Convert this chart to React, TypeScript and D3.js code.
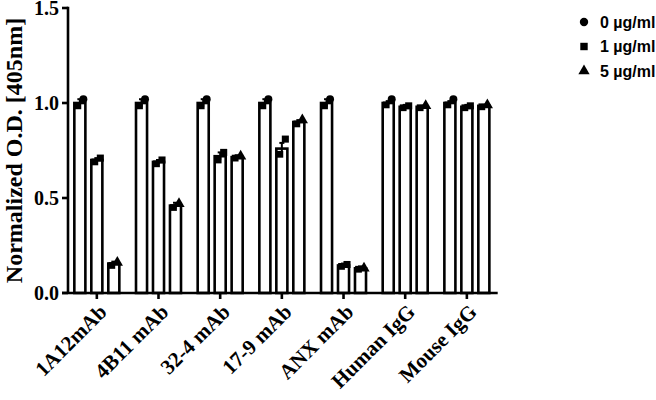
import React from "react";
import * as d3 from "d3";

const groups = ["1A12mAb", "4B11 mAb", "32-4 mAb", "17-9 mAb", "ANX mAb", "Human IgG", "Mouse IgG"];
const concentrations = ["0 µg/ml", "1 µg/ml", "5 µg/ml"];

// bar heights (mean) per concentration
const mean0 = [1.0, 1.0, 1.0, 1.0, 1.0, 1.0, 1.0];
const mean1 = [0.7, 0.69, 0.72, 0.76, 0.145, 0.98, 0.98];
const mean2 = [0.155, 0.46, 0.715, 0.9, 0.13, 0.98, 0.985];

// error (SEM)
const err0 = [0.02, 0.02, 0.02, 0.02, 0.02, 0.01, 0.01];
const err1 = [0.01, 0.01, 0.02, 0.03, 0.01, 0.01, 0.01];
const err2 = [0.01, 0.015, 0.01, 0.01, 0.01, 0.005, 0.005];

// replicate points (left, right)
const reps0 = [[0.985, 1.02], [0.985, 1.02], [0.985, 1.02], [0.985, 1.02], [0.985, 1.02], [0.99, 1.02], [0.99, 1.02]];
const reps1 = [[0.69, 0.71], [0.68, 0.7], [0.7, 0.74], [0.73, 0.81], [0.14, 0.15], [0.975, 0.985], [0.975, 0.985]];
const reps2 = [[0.145, 0.16], [0.45, 0.47], [0.71, 0.72], [0.89, 0.91], [0.125, 0.13], [0.975, 0.985], [0.98, 0.99]];

const yTicks = [0, 0.5, 1.0, 1.5];

const means = [mean0, mean1, mean2];
const errs = [err0, err1, err2];
const reps = [reps0, reps1, reps2];
const shapes = [d3.symbolCircle, d3.symbolSquare, d3.symbolTriangle];

export default function App() {
  const width = 656;
  const height = 400;

  const x = d3.scaleBand().domain(groups).range([66, 497.7]);
  const sub = d3.scaleBand().domain(concentrations).range([0, 45]).paddingInner(0.35);
  const y = d3.scaleLinear().domain([0, 1.5]).range([293, 8]);

  const serif = "'Liberation Serif', 'Times New Roman', serif";
  const sans = "'Liberation Sans', Arial, sans-serif";
  const sq = d3.symbol().type(d3.symbolSquare).size(46)();

  return (
    <svg width={width} height={height} style={{ position: "absolute", left: 0, top: 0 }}>
      <rect width={width} height={height} fill="#fff" />
      {/* bars */}
      {groups.map((g, gi) =>
        concentrations.map((c, ci) => {
          const x0 = (x(g) as number) + x.bandwidth() / 2 - 22.5 + (sub(c) as number);
          const bw = sub.bandwidth();
          const cx = x0 + bw / 2;
          const m = means[ci][gi];
          const e = errs[ci][gi];
          const pts = reps[ci][gi];
          const shape = d3.symbol().type(shapes[ci]).size(ci === 2 ? 55 : 50)();
          return (
            <g key={g + c}>
              <rect x={x0} y={y(m)} width={bw} height={y(0) - y(m)} fill="#fff" stroke="#000" strokeWidth={2.6} />
              <line x1={cx} x2={cx} y1={y(m - e)} y2={y(m + e)} stroke="#000" strokeWidth={2} />
              <line x1={cx - 2.5} x2={cx + 2.5} y1={y(m + e)} y2={y(m + e)} stroke="#000" strokeWidth={2} />
              {pts.map((v, pi) => (
                <path
                  key={pi}
                  d={pi === pts.length - 1 ? shape : sq}
                  transform={`translate(${pi === pts.length - 1 ? cx + 3.5 : cx - 2}, ${y(v)})`}
                  fill="#000"
                />
              ))}
            </g>
          );
        })
      )}
      {/* axes */}
      <line x1={62} x2={497.7} y1={y(0)} y2={y(0)} stroke="#000" strokeWidth={2.6} />
      <line x1={68} x2={68} y1={y(1.5) - 1.3} y2={y(0)} stroke="#000" strokeWidth={2.6} />
      {yTicks.map((t) => (
        <g key={t}>
          <line x1={62} x2={68} y1={y(t)} y2={y(t)} stroke="#000" strokeWidth={2.6} />
          <text
            x={59}
            y={y(t)}
            dy="0.36em"
            textAnchor="end"
            fontFamily={serif}
            fontWeight="bold"
            fontSize={20}
          >
            {t.toFixed(1)}
          </text>
        </g>
      ))}
      {groups.map((g) => {
        const cx = (x(g) as number) + x.bandwidth() / 2;
        return (
          <g key={g}>
            <line x1={cx} x2={cx} y1={y(0)} y2={y(0) + 6} stroke="#000" strokeWidth={2.6} />
            <text
              transform={`translate(${cx + 6}, ${y(0) + 15}) rotate(-45)`}
              textAnchor="end"
              dy="0.35em"
              fontFamily={serif}
              fontWeight="bold"
              fontSize={21}
            >
              {g}
            </text>
          </g>
        );
      })}
      <text
        transform={`translate(22, ${y(0.75)}) rotate(-90)`}
        textAnchor="middle"
        fontFamily={serif}
        fontWeight="bold"
        fontSize={24}
      >
        Normalized O.D. [405nm]
      </text>
      {/* legend */}
      {concentrations.map((c, ci) => (
        <g key={c} transform={`translate(584, ${22 + ci * 24.5})`}>
          <path d={d3.symbol().type(shapes[ci]).size(55)() as string} fill="#000" />
          <text x={16} dy="0.36em" fontFamily={sans} fontWeight="bold" fontSize={16}>
            {c}
          </text>
        </g>
      ))}
    </svg>
  );
}
